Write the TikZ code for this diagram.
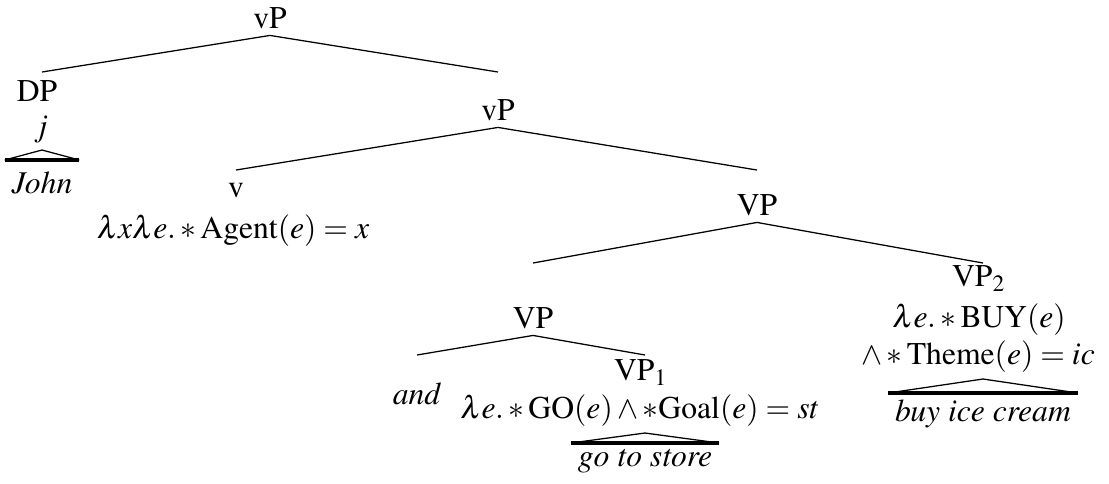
\documentclass[tikz,border=0pt]{standalone}
\usepackage[T1]{fontenc}
\usepackage{mathptmx}
\usepackage{tikz}

\begin{document}
\begin{tikzpicture}[x=0.316pt,y=-0.316pt]
    \tikzset{%
        cat/.style={inner sep=2pt, font=\fontsize{10}{12}\selectfont},
        branch/.style={line width=0.4pt},
        roofside/.style={line width=0.4pt},
        roofbase/.style={line width=1pt}
    }
    \useasboundingbox (0,0) rectangle (1109,483);

    % levels where the branches end
    \coordinate (lvl1) at (0,72);
    \coordinate (lvl2) at (0,170);
    \coordinate (lvl3) at (0,263);
    \coordinate (lvl4) at (0,355);

    % top vP and its subject
    \node[cat] (vp0) at (270,18) {vP};
    \node[cat] (dp) at (37,91) {DP};
    \node[cat, anchor=south] (jsem) at (41,150) {$j$};
    \node[cat, anchor=north, inner ysep=3.6pt] (john) at (42,160) {\textit{John}};

    % little v
    \node[cat] (vp1) at (498,110) {vP};
    \node[cat] (v) at (236,190) {v};
    \node[cat] (agent) at (233,231) {$\lambda x \lambda e. \ast \mathrm{Agent}(e) = x$};

    % coordinated VP
    \node[cat] (vpc) at (757,205) {VP};
    \node[cat] (vpl) at (533,318) {VP};
    \node[cat] (and) at (417,394) {\textit{and}};
    \node[cat] (vp1b) at (641,373) {VP$_1$};
    \node[cat, anchor=south] (gosem) at (640,433) {$\lambda e. \ast \mathrm{GO}(e) \wedge \ast \mathrm{Goal}(e) = st$};
    \node[cat, anchor=north] (store) at (645,443) {\textit{go to store}};

    \node[cat] (vp2) at (979,279) {VP$_2$};
    \node[cat] (buysem) at (979,320) {$\lambda e. \ast \mathrm{BUY}(e)$};
    \node[cat, anchor=south] (theme) at (978,379) {$\wedge \ast \mathrm{Theme}(e) = ic$};
    \node[cat, anchor=north] (icecream) at (983,393) {\textit{buy ice cream}};

    % branches
    \draw[branch] (vp0.south) -- (john.north |- lvl1);
    \draw[branch] (vp0.south) -- (vp1 |- lvl1);
    \draw[branch] (vp1.south) -- (v |- lvl2);
    \draw[branch] (vp1.south) -- (vpc |- lvl2);
    \draw[branch] (vpc.south) -- (vpl |- lvl3);
    \draw[branch] (vpc.south) -- (icecream.north |- lvl3);
    \draw[branch] (vpl.south) -- (and |- lvl4);
    \draw[branch] (vpl.south) -- (store.north |- lvl4);

    % roofs
    \draw[roofside] (john.north west) -- (jsem.south -| john.north) -- (john.north east);
    \draw[roofbase] (john.north west) -- (john.north east);
    \draw[roofside] (store.north west) -- (gosem.south -| store.north) -- (store.north east);
    \draw[roofbase] (store.north west) -- (store.north east);
    \draw[roofside] (icecream.north west) -- (theme.south -| icecream.north) -- (icecream.north east);
    \draw[roofbase] (icecream.north west) -- (icecream.north east);
\end{tikzpicture}
\end{document}
